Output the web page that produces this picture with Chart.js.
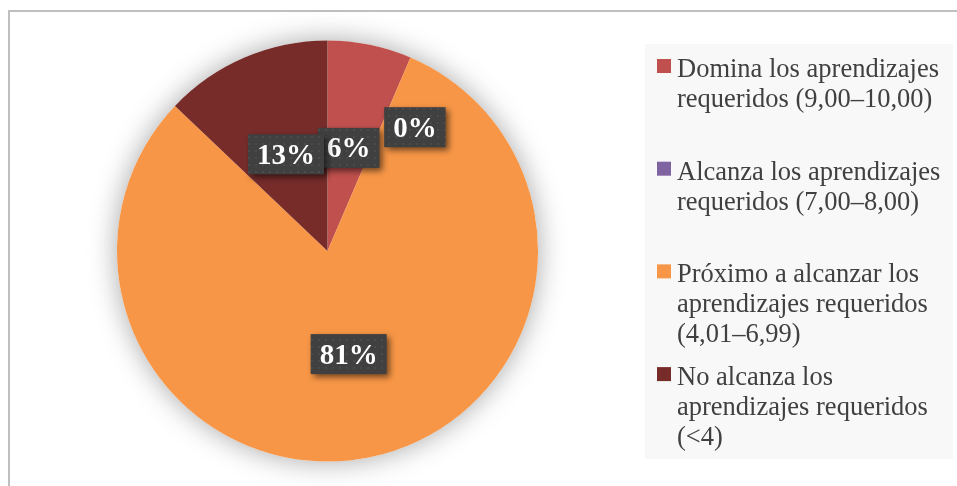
<!DOCTYPE html>
<html lang="es">
<head>
    <meta charset="UTF-8">
    <title>Niveles de aprendizaje</title>
    <script src="https://cdn.jsdelivr.net/npm/chart.js"></script>
    <style>
        html, body { margin: 0; padding: 0; background: #ffffff; }
        #wrap { width: 957px; height: 486px; }
    </style>
</head>
<body>
    <div id="wrap">
        <canvas id="myChart" width="957" height="486"></canvas>
    </div>
    <script>
        // datos del gráfico
        const categories = [
            ['Domina los aprendizajes', 'requeridos (9,00–10,00)'],
            ['Alcanza los aprendizajes', 'requeridos (7,00–8,00)'],
            ['Próximo a alcanzar los', 'aprendizajes requeridos', '(4,01–6,99)'],
            ['No alcanza los', 'aprendizajes requeridos', '(<4)']
        ];
        const percentages = [6.45, 0, 80.65, 12.9];
        const sliceColors = ['#C0504D', '#8064A2', '#F79646', '#772C2A'];

        // posicion de las etiquetas (fraccion del radio, giro extra en grados)
        const labelRadius = [0.5, 0.72, 0.5, 0.5];
        const labelTurn = [0, 12, 0, 0];

        // textura de puntos para las cajas de etiqueta
        function makePattern(ctx) {
            const c = document.createElement('canvas');
            c.width = 7; c.height = 7;
            const p = c.getContext('2d');
            p.fillStyle = '#404040';
            p.fillRect(0, 0, 7, 7);
            p.fillStyle = '#4B4B4B';
            p.fillRect(3, 3, 2, 2);
            return ctx.createPattern(c, 'repeat');
        }

        const frame = {
            id: 'frame',
            beforeDraw(chart) {
                const ctx = chart.ctx;
                ctx.save();
                ctx.fillStyle = '#ffffff';
                ctx.fillRect(0, 0, chart.width, chart.height);
                ctx.strokeStyle = '#BFBFBF';
                ctx.lineWidth = 2;
                ctx.beginPath();
                ctx.moveTo(9, chart.height);
                ctx.lineTo(9, 11);
                ctx.lineTo(chart.width, 11);
                ctx.stroke();
                ctx.restore();
            },
            beforeDatasetsDraw(chart) {
                // sombra suave alrededor del pastel
                const arc = chart.getDatasetMeta(0).data[0];
                const ctx = chart.ctx;
                ctx.save();
                ctx.shadowColor = 'rgba(0,0,0,0.35)';
                ctx.shadowBlur = 28;
                ctx.fillStyle = '#ffffff';
                ctx.beginPath();
                ctx.arc(arc.x, arc.y, arc.outerRadius, 0, Math.PI * 2);
                ctx.fill();
                ctx.restore();
            }
        };

        const boxLabels = {
            id: 'boxLabels',
            afterDatasetsDraw(chart) {
                const ctx = chart.ctx;
                const pattern = makePattern(ctx);
                const arcs = chart.getDatasetMeta(0).data;
                ctx.save();
                ctx.font = 'bold 29px "Liberation Serif", serif';
                ctx.textAlign = 'center';
                ctx.textBaseline = 'middle';
                arcs.forEach((arc, i) => {
                    const ang = (arc.startAngle + arc.endAngle) / 2 + labelTurn[i] * Math.PI / 180;
                    const d = arc.outerRadius * labelRadius[i];
                    const x = arc.x + Math.cos(ang) * d;
                    const y = arc.y + Math.sin(ang) * d;
                    const txt = Math.round(percentages[i]) + '%';
                    const w = ctx.measureText(txt).width + 18;
                    const h = 40;
                    ctx.save();
                    ctx.shadowColor = 'rgba(0,0,0,0.55)';
                    ctx.shadowBlur = 6;
                    ctx.shadowOffsetX = 3;
                    ctx.shadowOffsetY = 3;
                    ctx.fillStyle = pattern;
                    ctx.fillRect(x - w / 2, y - h / 2, w, h);
                    ctx.restore();
                    ctx.fillStyle = '#ffffff';
                    ctx.fillText(txt, x, y + 2);
                });
                ctx.restore();
            }
        };

        const sideLegend = {
            id: 'sideLegend',
            afterDraw(chart) {
                const ctx = chart.ctx;
                ctx.save();
                ctx.fillStyle = '#F8F8F8';
                ctx.fillRect(645, 44, 308, 415);
                ctx.font = '26.5px "Liberation Serif", serif';
                ctx.textAlign = 'left';
                ctx.textBaseline = 'alphabetic';
                categories.forEach((lines, i) => {
                    const base = 77 + i * 102.7;
                    ctx.fillStyle = sliceColors[i];
                    ctx.fillRect(657, base - 18, 14, 14);
                    ctx.fillStyle = '#404040';
                    lines.forEach((line, j) => {
                        ctx.fillText(line, 677, base + j * 30);
                    });
                });
                ctx.restore();
            }
        };

        const ctx = document.getElementById('myChart').getContext('2d');
        const myChart = new Chart(ctx, {
            type: 'pie',
            data: {
                labels: categories,
                datasets: [{
                    data: percentages,
                    backgroundColor: sliceColors,
                    borderWidth: 0
                }]
            },
            options: {
                responsive: false,
                animation: false,
                layout: {
                    padding: { top: 40, bottom: 24, left: 117, right: 419 }
                },
                plugins: {
                    legend: { display: false },
                    tooltip: { enabled: false }
                }
            },
            plugins: [frame, boxLabels, sideLegend]
        });
    </script>
</body>
</html>
